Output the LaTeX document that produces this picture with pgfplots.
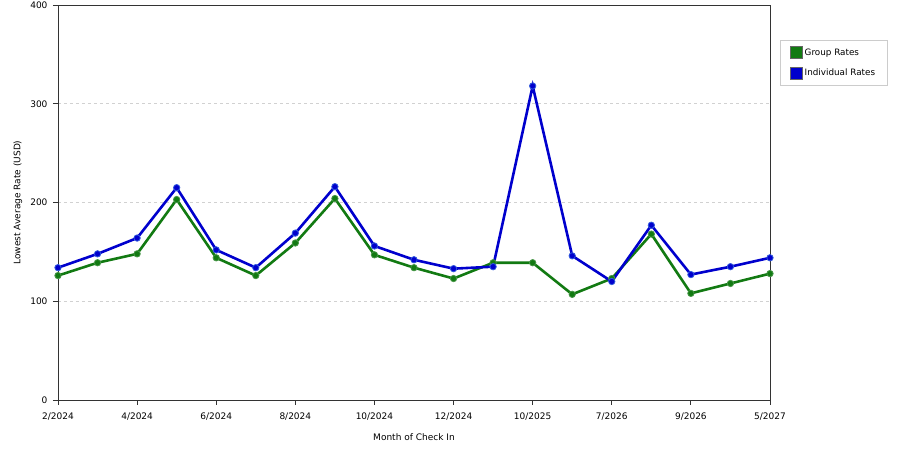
\documentclass[border=0pt]{standalone}
\usepackage{pgfplots}
\pgfplotsset{compat=1.18}
\usepackage{fontspec}
\setmainfont{DejaVu Sans}
\definecolor{grp}{RGB}{18,122,18}
\definecolor{ind}{RGB}{0,0,205}
\definecolor{grpm}{RGB}{70,150,70}
\definecolor{indm}{RGB}{50,90,220}
\begin{document}
\begin{tikzpicture}[x=1pt,y=1pt]
\useasboundingbox (0,0) rectangle (900,450);
\begin{axis}[
  at={(58pt,50pt)}, anchor=south west,
  scale only axis, width=712pt, height=395pt,
  xmin=0, xmax=18, ymin=0, ymax=400,
  xtick={0,2,...,18},
  xticklabels={2/2024,4/2024,6/2024,8/2024,10/2024,12/2024,10/2025,7/2026,9/2026,5/2027},
  ytick={0,100,...,400},
  tick align=outside, major tick length=5pt,
  xtick pos=left, ytick pos=left,
  tick style={black!80, line width=0.8pt},
  axis line style={black!80, line width=0.8pt},
  ymajorgrids, grid style={dashed, black!18, line width=0.6pt},
  font=\fontsize{9}{11}\selectfont,
  /pgf/number format/assume math mode=true,
  ticklabel style={font=\fontsize{9}{11}\selectfont},
  x tick label style={yshift=-4pt},
  y tick label style={xshift=-2pt},
  xlabel={Month of Check In}, ylabel={Lowest Average Rate (USD)},
  xlabel style={at={(axis description cs:0.5,0)}, anchor=center, yshift=-37pt},
  ylabel style={at={(axis description cs:0,0.5)}, anchor=center, yshift=40pt},
  clip=false,
  legend style={at={(1.014,0.911)}, anchor=north west, draw=black!20,
    font=\fontsize{8.8}{11}\selectfont, row sep=8pt, inner xsep=10pt, inner ysep=6pt,
    cells={anchor=west}},
]
\addplot[grp, line width=2.6pt, mark=*, mark size=3.2pt, mark options={fill=grp, draw=grpm, line width=0.8pt},
  legend image code/.code={\fill[draw=black!60, fill=grp, line width=0.5pt] (0pt,-6pt) rectangle (12pt,6pt);}]
coordinates {
(0,126) (1,139) (2,148) (3,203) (4,144) (5,126) (6,159) (7,204) (8,147) (9,134)
(10,123) (11,139) (12,139) (13,107) (14,123) (15,168) (16,108) (17,118) (18,128)
};
\addlegendentry{Group Rates}
\addplot[ind, line width=2.6pt, mark=*, mark size=3.2pt, mark options={fill=ind, draw=indm, line width=0.8pt},
  legend image code/.code={\fill[draw=black!60, fill=ind, line width=0.5pt] (0pt,-6pt) rectangle (12pt,6pt);}]
coordinates {
(0,134) (1,148) (2,164) (3,215) (4,152) (5,134) (6,169) (7,216) (8,156) (9,142)
(10,133) (11,135) (12,318) (13,146) (14,120) (15,177) (16,127) (17,135) (18,144)
};
\addlegendentry{Individual Rates}
\end{axis}
\end{tikzpicture}
\end{document}
